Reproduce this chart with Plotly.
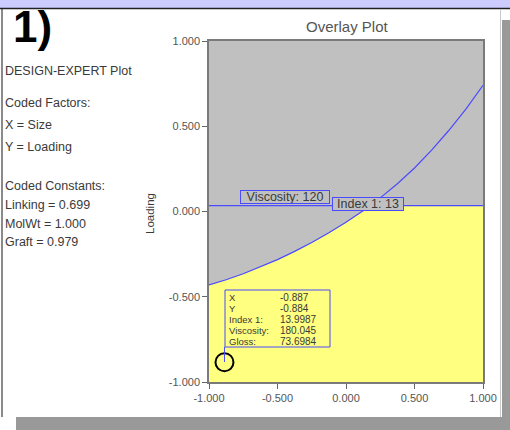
import numpy as np
import plotly.graph_objects as go

# ---- data -------------------------------------------------------------
size_vals = [-1.0, -0.875, -0.75, -0.625, -0.5, -0.375, -0.25, -0.125, 0.0,
             0.125, 0.25, 0.375, 0.5, 0.625, 0.75, 0.875, 1.0]
index_contour = [-0.43, -0.40, -0.365, -0.325, -0.282, -0.234, -0.182, -0.125, -0.063,
                 0.005, 0.08, 0.163, 0.255, 0.36, 0.475, 0.60, 0.74]   # Index 1: 13
viscosity_level = 0.034                                                 # Viscosity: 120

axis_ticks = [-1.0, -0.5, 0.0, 0.5, 1.0]
axis_ticktext = ["-1.000", "-0.500", "0.000", "0.500", "1.000"]

point_x = -0.887
point_y = -0.884
info_labels = ["X", "Y", "Index 1:", "Viscosity:", "Gloss:"]
info_values = ["-0.887", "-0.884", "13.9987", "180.045", "73.6984"]

side_text = [
    ("DESIGN-EXPERT Plot", 71),
    ("Coded Factors:", 103),
    ("X = Size", 125),
    ("Y = Loading", 147),
    ("Coded Constants:", 186),
    ("Linking = 0.699", 205),
    ("MolWt = 1.000", 224),
    ("Graft = 0.979", 242),
]

# ---- geometry helpers -------------------------------------------------
W, H = 510, 430
def px(x):
    return x / W
def py(y):
    return 1 - y / H

FONT = "Liberation Sans, Arial, sans-serif"
BLUE = "#4a4aff"
GRAY = "#c0c0c0"
YELLOW = "#ffff80"
TXT = "#3a3a3a"

def label(x, y, text, size, color=TXT, xanchor="left", **kw):
    fig.add_annotation(xref="paper", yref="paper", x=px(x), y=py(y),
                       xanchor=xanchor, yanchor="middle", showarrow=False,
                       text=text, font=dict(family=FONT, size=size, color=color), **kw)

# desirable (yellow) region: below both contours
cx = np.array(size_vals)
cy = np.array(index_contour)
x_cross = float(np.interp(viscosity_level, cy, cx))
fx = np.sort(np.append(cx, x_cross))
fy = np.minimum(np.interp(fx, cx, cy), viscosity_level)
fill_x = list(fx) + [1.0, -1.0]
fill_y = list(fy) + [-1.0, -1.0]

fig = go.Figure()
fig.add_trace(go.Scatter(x=fill_x, y=fill_y, fill="toself", fillcolor=YELLOW,
                         mode="lines", line=dict(width=0), hoverinfo="skip"))
fig.add_trace(go.Scatter(x=size_vals, y=index_contour, mode="lines",
                         line=dict(color=BLUE, width=1.2), hoverinfo="skip"))
fig.add_trace(go.Scatter(x=[-1.0, 1.0], y=[viscosity_level, viscosity_level], mode="lines",
                         line=dict(color=BLUE, width=1.2), hoverinfo="skip"))

# flag-point info box
box_x0, box_x1, box_y0, box_y1 = 225, 330, 290, 347
fig.add_shape(type="rect", xref="paper", yref="paper",
              x0=px(box_x0), x1=px(box_x1), y0=py(box_y1), y1=py(box_y0),
              line=dict(color=BLUE, width=1), fillcolor=YELLOW)
fig.add_shape(type="line", xref="x", yref="paper",
              x0=point_x, x1=point_x, y0=py(box_y1), y1=py(362),
              line=dict(color=BLUE, width=1))
fig.add_trace(go.Scatter(x=[point_x], y=[point_y], mode="markers",
                         marker=dict(symbol="circle-open", size=18, color="black",
                                     line=dict(width=2, color="black")),
                         hoverinfo="skip"))

row_y = [297.5, 308.5, 319.5, 330.5, 341.5]
for lab, val, yy in zip(info_labels, info_values, row_y):
    label(227, yy, lab, 9.5)
    label(278, yy, val, 10)

# contour labels
label(284.5, 196.5, "Viscosity: 120", 12.5, xanchor="center",
      bgcolor=GRAY, bordercolor=BLUE, borderwidth=1, borderpad=0, width=88, height=12)
label(367.5, 203.5, "Index 1: 13", 12.5, xanchor="center",
      bgcolor=GRAY, bordercolor=BLUE, borderwidth=1, borderpad=0, width=70, height=12)

# title and axis title
label(347, 27, "Overlay Plot", 15, color="#555", xanchor="center")
label(150, 214, "Loading", 11.5, xanchor="center", textangle=-90)

# side panel
label(11, 26, "<b>1)</b>", 44, color="black")
for txt, yy in side_text:
    label(3, yy, txt, 12.5)

# page frame
fig.add_shape(type="rect", xref="paper", yref="paper", layer="below",
              x0=0, x1=1, y0=py(8), y1=1, line=dict(width=0), fillcolor="#ccccff")
fig.add_shape(type="line", xref="paper", yref="paper",
              x0=0, x1=1, y0=py(8.5), y1=py(8.5), line=dict(color="#222", width=1.5))
fig.add_shape(type="rect", xref="paper", yref="paper", layer="below",
              x0=px(1), x1=px(3), y0=py(417), y1=py(9), line=dict(width=0), fillcolor="#8a8a8a")
fig.add_shape(type="line", xref="paper", yref="paper",
              x0=px(500.5), x1=px(500.5), y0=py(417), y1=py(9), line=dict(color="#c8c8c8", width=1))
fig.add_shape(type="rect", xref="paper", yref="paper", layer="below",
              x0=px(502), x1=1, y0=0, y1=py(20), line=dict(width=0), fillcolor="#999999")
fig.add_shape(type="rect", xref="paper", yref="paper", layer="below",
              x0=px(16), x1=1, y0=0, y1=py(417), line=dict(width=0), fillcolor="#999999")

axis_common = dict(range=[-1, 1], tickvals=axis_ticks, ticktext=axis_ticktext,
                   ticks="outside", ticklen=5, tickcolor="#666", tickwidth=1,
                   showgrid=False, zeroline=False, showline=True, mirror=True,
                   linecolor="#7a7a7a", linewidth=1.5, automargin=False,
                   tickfont=dict(family=FONT, size=11, color="#555"))

fig.update_layout(
    width=W, height=H, margin=dict(l=0, r=0, t=0, b=0, pad=0),
    paper_bgcolor="white", plot_bgcolor=GRAY, showlegend=False,
    xaxis=dict(domain=[px(209), px(483)], **axis_common),
    yaxis=dict(domain=[py(382), py(41)], **axis_common),
)

fig.write_html("out.html")
